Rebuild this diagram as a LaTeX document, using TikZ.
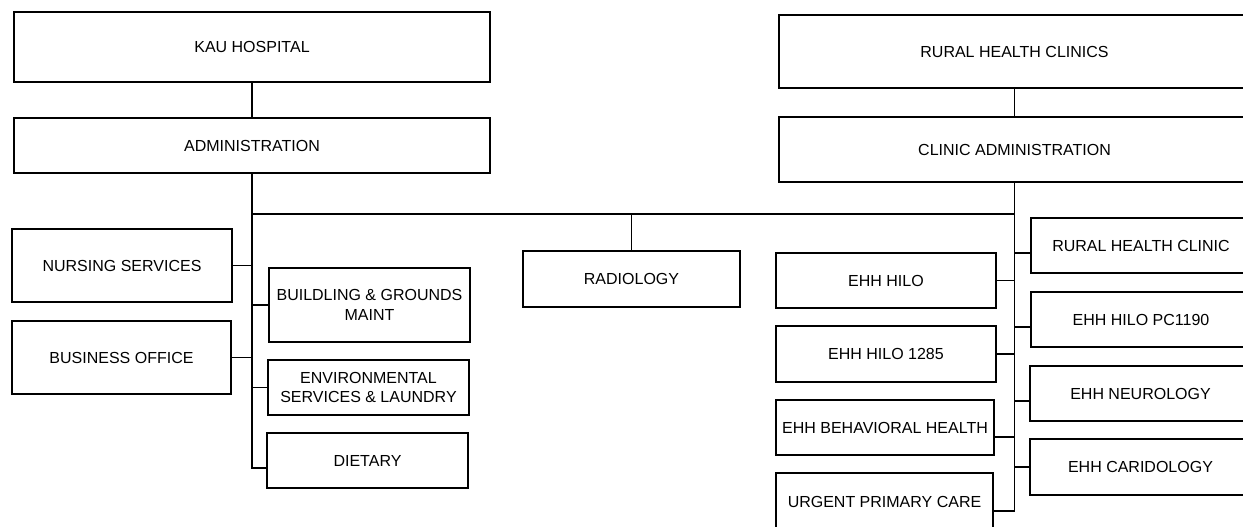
\documentclass[tikz,border=0pt]{standalone}
\usepackage{fontspec}
\setmainfont{Liberation Sans}
\begin{document}
\begin{tikzpicture}[x=1pt,y=-1pt,
  box/.style={draw, line width=1.8pt, inner sep=0pt, align=center,
    font=\fontsize{16}{19.5}\selectfont},
  link/.style={line width=1.8pt}]
\useasboundingbox (0,0) rectangle (1243,527);
\clip (0,0) rectangle (1243,527);
\fill[white] (0,0) rectangle (1243,527);
% left column
\node[box, minimum width=476pt, minimum height=70pt] (kau) at (252,47) {KAU HOSPITAL};
\node[box, minimum width=476pt, minimum height=55pt] (admin) at (252,145.5) {ADMINISTRATION};
\node[box, minimum width=220pt, minimum height=73pt] (nurs) at (122,265.5) {NURSING SERVICES};
\node[box, minimum width=219pt, minimum height=73pt] (bus) at (121.5,357.5) {BUSINESS OFFICE};
\node[box, minimum width=201pt, minimum height=74pt] (build) at (369.5,305) {BUILDLING \& GROUNDS\\MAINT};
\node[box, minimum width=201pt, minimum height=55pt] (env) at (368.5,387.5) {ENVIRONMENTAL\\SERVICES \& LAUNDRY};
\node[box, minimum width=201pt, minimum height=55pt] (diet) at (367.5,460.5) {DIETARY};
\node[box, minimum width=217pt, minimum height=56pt] (radio) at (631.5,279) {RADIOLOGY};
% right column
\node[box, minimum width=471pt, minimum height=73pt] (rhcs) at (1014.5,51.5) {RURAL HEALTH CLINICS};
\node[box, minimum width=471pt, minimum height=65pt] (cadm) at (1014.5,149.5) {CLINIC ADMINISTRATION};
\node[box, minimum width=220pt, minimum height=55pt] (hilo) at (886,280.5) {EHH HILO};
\node[box, minimum width=220pt, minimum height=56pt] (hilob) at (886,354) {EHH HILO 1285};
\node[box, minimum width=218pt, minimum height=55pt] (behav) at (885,427.5) {EHH BEHAVIORAL HEALTH};
\node[box, minimum width=217pt, minimum height=57pt] (urgent) at (884.5,501.5) {URGENT PRIMARY CARE};
\node[box, minimum width=220pt, minimum height=55pt] (rhc) at (1141,245.5) {RURAL HEALTH CLINIC};
\node[box, minimum width=220pt, minimum height=55pt] (pc) at (1141,319.5) {EHH HILO PC1190};
\node[box, minimum width=221pt, minimum height=55pt] (neuro) at (1140.5,393.5) {EHH NEUROLOGY};
\node[box, minimum width=221pt, minimum height=56pt] (cardio) at (1140.5,467) {EHH CARIDOLOGY};
% connectors
\coordinate (busL) at (252,214);
\coordinate (busR) at (cadm.south |- busL);
\draw[link] (kau.south) -- (admin.north);
\draw[link] (rhcs.south) -- (cadm.north);
\draw[link] (admin.south) |- ([yshift=-7.5pt]diet.west);
\draw[link] (busL) -- (busR);
\draw[link] (radio.north) -- (radio.north |- busL);
\draw[link] (nurs.east) -- (nurs.east -| admin.south);
\draw[link] (bus.east) -- (bus.east -| admin.south);
\draw[link] (build.west) -- (build.west -| admin.south);
\draw[link] (env.west) -- (env.west -| admin.south);
\draw[link] (cadm.south) |- ([yshift=-9.5pt]urgent.east);
\draw[link] (hilo.east) -- (hilo.east -| cadm.south);
\draw[link] (hilob.east) -- (hilob.east -| cadm.south);
\draw[link] ([yshift=-9.5pt]behav.east) -- ([yshift=-9.5pt]behav.east -| cadm.south);
\draw[link] ([yshift=-7.5pt]rhc.west) -- ([yshift=-7.5pt]rhc.west -| cadm.south);
\draw[link] ([yshift=-7.5pt]pc.west) -- ([yshift=-7.5pt]pc.west -| cadm.south);
\draw[link] ([yshift=-7.5pt]neuro.west) -- ([yshift=-7.5pt]neuro.west -| cadm.south);
\draw[link] (cardio.west) -- (cardio.west -| cadm.south);
\end{tikzpicture}
\end{document}
